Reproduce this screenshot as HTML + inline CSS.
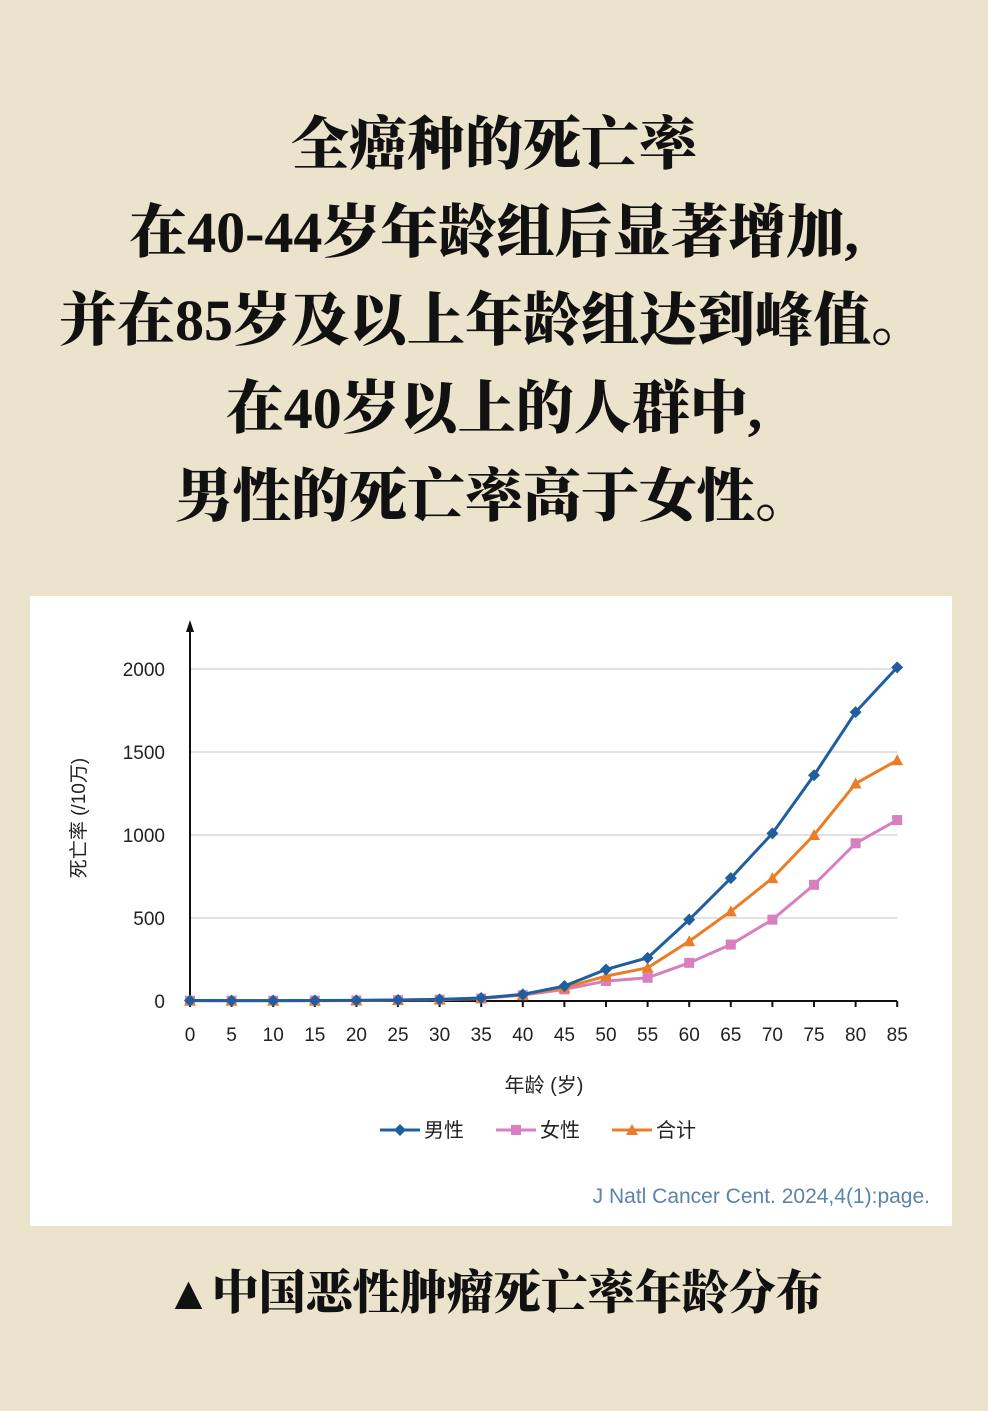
<!DOCTYPE html><html><head><meta charset="utf-8"><style>
body{margin:0;width:988px;height:1411px;background:#ece3cd;font-family:"Liberation Serif","Noto Serif CJK SC",serif;overflow:hidden;position:relative}
.t{position:absolute;left:0;width:988px;text-align:center;font-weight:900;font-size:58px;color:#111;line-height:88px;top:101px;white-space:nowrap}
.c{position:absolute;left:0;width:988px;text-align:center;font-weight:900;font-size:47px;color:#111;top:1256px}
</style></head><body>
<div class="t">全癌种的死亡率<br>在40-44岁年龄组后显著增加,<br>并在85岁及以上年龄组达到峰值。<br>在40岁以上的人群中,<br>男性的死亡率高于女性。</div>
<svg style="position:absolute;left:0;top:0" width="988" height="1411" font-family="'Liberation Sans','Noto Sans CJK SC',sans-serif">
<rect x="30" y="596" width="922" height="630" fill="#fff"/>
<g stroke="#d9d9d9" stroke-width="1.5"><line x1="190" x2="897" y1="669" y2="669"/><line x1="190" x2="897" y1="752" y2="752"/><line x1="190" x2="897" y1="835" y2="835"/><line x1="190" x2="897" y1="918" y2="918"/></g>
<line x1="190" y1="625" x2="190" y2="1001" stroke="#111" stroke-width="2"/><polygon points="186,632 190,620 194,632" fill="#111"/>
<line x1="190" y1="1001" x2="897" y2="1001" stroke="#111" stroke-width="2"/>
<g font-size="19" fill="#222" text-anchor="end"><text x="165" y="676">2000</text><text x="165" y="759">1500</text><text x="165" y="842">1000</text><text x="165" y="925">500</text><text x="165" y="1008">0</text></g>
<g font-size="19" fill="#222" text-anchor="middle" id="xl"></g>
<text x="85" y="818" font-size="19" fill="#222" text-anchor="middle" transform="rotate(-90 85 818)">死亡率 (/10万)</text>
<text x="544" y="1092" font-size="20" fill="#222" text-anchor="middle">年龄 (岁)</text>
<g font-size="20" fill="#222"><line x1="380" x2="420" y1="1130" y2="1130" stroke="#1f5f9f" stroke-width="3"/><polygon points="400,1124 406,1130 400,1136 394,1130" fill="#1f5f9f"/><text x="424" y="1137">男性</text>
<line x1="496" x2="536" y1="1130" y2="1130" stroke="#d77fbf" stroke-width="3"/><rect x="511" y="1125" width="10" height="10" fill="#d77fbf"/><text x="540" y="1137">女性</text>
<line x1="612" x2="652" y1="1130" y2="1130" stroke="#ea7e28" stroke-width="3"/><polygon points="632,1124 638,1135 626,1135" fill="#ea7e28"/><text x="656" y="1137">合计</text></g>
<text x="930" y="1203" font-size="21" fill="#5b84a9" text-anchor="end">J Natl Cancer Cent. 2024,4(1):page.</text>
<g id="ser"></g>
</svg>
<div class="c">▲中国恶性肿瘤死亡率年龄分布</div>
<script>
var ns="http://www.w3.org/2000/svg",X=i=>190+i*41.6,Y=v=>1001-v*0.166;
var xl=document.getElementById("xl"),s=document.getElementById("ser");
for(var i=0;i<18;i++){var t=document.createElementNS(ns,"text");t.setAttribute("x",X(i));t.setAttribute("y",1041);t.textContent=i*5;xl.appendChild(t);
var l=document.createElementNS(ns,"line");l.setAttribute("x1",X(i));l.setAttribute("x2",X(i));l.setAttribute("y1",1001);l.setAttribute("y2",1007);l.setAttribute("stroke","#111");l.setAttribute("stroke-width",2);xl.appendChild(l);}
var D=[["#d77fbf","s",[2,2,2,2,3,5,8,15,35,70,120,140,230,340,490,700,950,1090]],["#ea7e28","t",[2,2,2,2,3,6,9,16,38,80,150,200,360,540,740,1000,1310,1450]],["#1f5f9f","d",[3,2,2,3,4,6,10,18,40,90,190,260,490,740,1010,1360,1740,2010]]];
D.forEach(d=>{var p=d[2].map((v,i)=>X(i)+","+Y(v)).join(" ");var pl=document.createElementNS(ns,"polyline");pl.setAttribute("points",p);pl.setAttribute("fill","none");pl.setAttribute("stroke",d[0]);pl.setAttribute("stroke-width",3);s.appendChild(pl);
d[2].forEach((v,i)=>{var x=X(i),y=Y(v),m;if(d[1]=="s"){m=document.createElementNS(ns,"rect");m.setAttribute("x",x-5);m.setAttribute("y",y-5);m.setAttribute("width",10);m.setAttribute("height",10);}else{m=document.createElementNS(ns,"polygon");m.setAttribute("points",d[1]=="t"?`${x},${y-6} ${x+6},${y+5} ${x-6},${y+5}`:`${x},${y-6} ${x+6},${y} ${x},${y+6} ${x-6},${y}`);}m.setAttribute("fill",d[0]);s.appendChild(m);});});
</script>
</body></html>
